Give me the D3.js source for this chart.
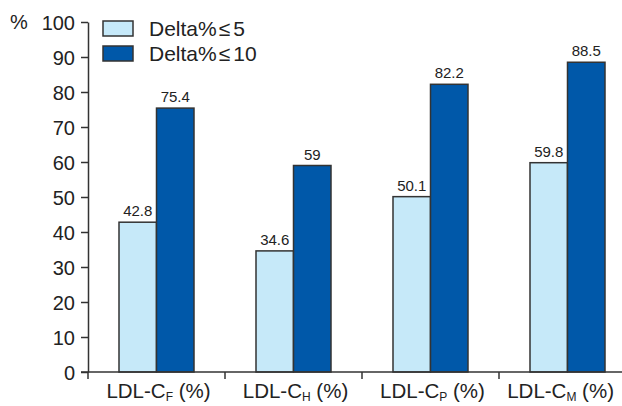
<!DOCTYPE html>
<html><head><meta charset="utf-8">
<script src="https://cdn.jsdelivr.net/npm/d3@7"></script>
<style>body{margin:0;background:#fff}svg{display:block}text{font-family:"Liberation Sans",Arial,sans-serif;fill:#222}</style>
</head><body><svg id="c" width="622" height="406"></svg>
<script>
const categories = ["F", "H", "P", "M"];
const seriesPrefix = ["Delta%", "Delta%"];
const seriesLimit = ["5", "10"];
const delta5 = [42.8, 34.6, 50.1, 59.8];
const delta10 = [75.4, 59, 82.2, 88.5];
const yTicks = [0,10,20,30,40,50,60,70,80,90,100];
const colors = ["#c6e9f9", "#0058a9"];

const svg = d3.select("#c");
const x0 = d3.scaleBand().domain(categories).range([88, 636]).padding(0);
const bw = x0.bandwidth();
const x1 = d3.scaleBand().domain([0,1]).range([bw/2 - 37.5, bw/2 + 37.5]);
const y = d3.scaleLinear().domain([0,100]).range([372, 22]);
const series = [delta5, delta10];

// bars
categories.forEach((c, i) => {
  series.forEach((s, j) => {
    svg.append("rect")
      .attr("x", x0(c) + x1(j)).attr("y", y(s[i]))
      .attr("width", x1.bandwidth()).attr("height", y(0) - y(s[i]))
      .attr("fill", colors[j]).attr("stroke", "#333").attr("stroke-width", 1.5);
    svg.append("text")
      .attr("x", x0(c) + x1(j) + x1.bandwidth()/2).attr("y", y(s[i]) - 6)
      .attr("text-anchor", "middle").attr("font-size", 15)
      .text(s[i]);
  });
});

// y axis
const yAxis = svg.append("g").attr("transform", "translate(88,0)")
  .call(d3.axisLeft(y).tickValues(yTicks).tickSize(7).tickPadding(6).tickSizeOuter(0));
yAxis.select(".domain").attr("stroke", "#333").attr("stroke-width", 1.5);
yAxis.selectAll(".tick line").attr("stroke", "#333").attr("stroke-width", 1.5);
yAxis.selectAll(".tick text").attr("font-size", 20).attr("font-family", '"Liberation Sans",Arial,sans-serif').attr("fill", "#222").attr("dy", "0.36em");

// x axis
const xg = svg.append("g").attr("transform", "translate(0,372)");
xg.append("line").attr("x1", 81).attr("x2", 622).attr("stroke", "#333").attr("stroke-width", 1.5);
categories.forEach(c => {
  xg.append("line").attr("x1", x0(c)).attr("x2", x0(c)).attr("y1", 0).attr("y2", 7)
    .attr("stroke", "#333").attr("stroke-width", 1.5);
  const t = xg.append("text").attr("x", x0(c) + bw/2 + 2).attr("y", 26)
    .attr("text-anchor", "middle").attr("font-size", 20.5);
  t.append("tspan").text("LDL-C");
  t.append("tspan").attr("font-size", 12).attr("dy", 3).text(c);
  t.append("tspan").attr("dy", -3).text(" (%)");
  const b = t.node().getBBox();
  if (b.x + b.width > 614) t.attr("x", +t.attr("x") - (b.x + b.width - 614));
});

// % label
svg.append("text").attr("x", 10).attr("y", 29).attr("font-size", 20).text("%");

// legend
seriesPrefix.forEach((n, j) => {
  const yy = 21 + j * 25;
  svg.append("rect").attr("x", 103).attr("y", yy).attr("width", 30).attr("height", 15)
    .attr("fill", colors[j]).attr("stroke", "#333").attr("stroke-width", 1.5);
  const t = svg.append("text").attr("x", 149).attr("y", yy + 15).attr("font-size", 21);
  t.append("tspan").text(n);
  t.append("tspan").attr("dx", 2).text("\u2264");
  t.append("tspan").attr("dx", 3).text(seriesLimit[j]);
});
</script></body></html>
